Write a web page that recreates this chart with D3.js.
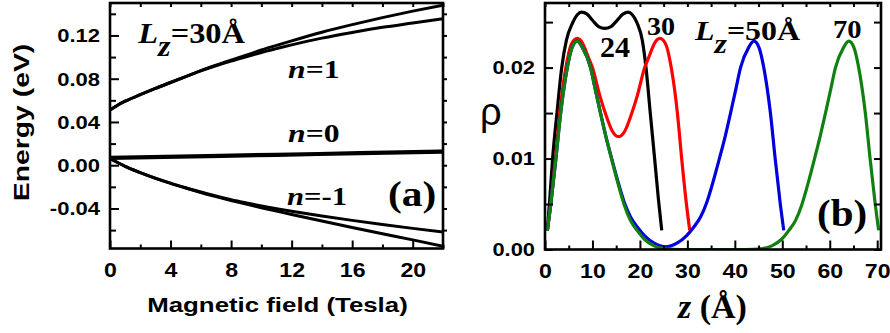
<!DOCTYPE html>
<html>
<head>
<meta charset="utf-8">
<script src="https://cdn.jsdelivr.net/npm/d3@7"></script>
<style>
  body { margin: 0; background: #fff; }
  svg { display: block; }
</style>
</head>
<body>
<svg id="chart" width="890" height="333"></svg>
<script>
// ---------- (a) Landau-type levels vs magnetic field, Lz = 30 Å ----------
const fieldB   = [0, 0.5, 1, 2, 3, 4, 5, 6, 7, 8, 9, 10, 11, 12, 14, 16, 18, 20, 22];
const n1Upper  = [0.051, 0.0555, 0.0592, 0.0652, 0.0710, 0.0765, 0.0820, 0.0875, 0.0925, 0.0972, 0.1018, 0.1065, 0.1108, 0.1150, 0.1230, 0.1300, 0.1365, 0.1425, 0.1480];
const n1Lower  = [0.051, 0.0555, 0.0592, 0.0652, 0.0710, 0.0765, 0.0820, 0.0873, 0.0920, 0.0963, 0.1003, 0.1042, 0.1078, 0.1113, 0.1175, 0.1228, 0.1275, 0.1315, 0.1355];
const nm1Upper = [0.0062, 0.0025, -0.0010, -0.0068, -0.0120, -0.0166, -0.0208, -0.0248, -0.0284, -0.0318, -0.0348, -0.0376, -0.0402, -0.0426, -0.0470, -0.0510, -0.0548, -0.0584, -0.0618];
const nm1Lower = [0.0062, 0.0025, -0.0010, -0.0068, -0.0121, -0.0168, -0.0211, -0.0252, -0.0290, -0.0326, -0.0360, -0.0393, -0.0424, -0.0455, -0.0516, -0.0575, -0.0633, -0.0690, -0.0750];
const n0Field  = [0, 5.5, 11, 16.5, 22];
const n0Upper  = [0.0074, 0.0088, 0.0102, 0.0117, 0.0131];
const n0Lower  = [0.0063, 0.0077, 0.0091, 0.0106, 0.0120];

const fieldTicks  = [0, 4, 8, 12, 16, 20];
const fieldMinor  = [2, 6, 10, 14, 18, 22];
const energyTicks = [-0.04, 0, 0.04, 0.08, 0.12];
const energyMinor = [-0.06, -0.02, 0.02, 0.06, 0.10, 0.14];

// ---------- (b) density profiles rho(z) for several well widths ----------
const zLz24   = [0.5, 1.0, 1.6, 2.5, 3.5, 4.5, 5.8, 6.8, 7.7, 8.8, 10.0, 11.3, 12.6, 13.9, 15.2, 16.5, 17.5, 18.4, 19.4, 20.5, 21.3, 22.2, 23.1, 23.9, 24.6];
const rhoLz24 = [0.0021, 0.0055, 0.0100, 0.0149, 0.0199, 0.0230, 0.0249, 0.0258, 0.0261, 0.0259, 0.0252, 0.0245, 0.0243, 0.0245, 0.0252, 0.0259, 0.0261, 0.0258, 0.0249, 0.0230, 0.0199, 0.0149, 0.0100, 0.0055, 0.0021];

const zLz30   = [0.5, 1.2, 2.2, 3.1, 4.4, 5.5, 6.8, 8.0, 9.0, 10.0, 11.5, 12.9, 14.2, 15.5, 16.8, 18.1, 19.5, 21.0, 22.0, 23.0, 24.2, 25.5, 26.6, 27.9, 28.8, 29.8, 30.5];
const rhoLz30 = [0.0021, 0.0050, 0.0100, 0.0150, 0.0200, 0.0225, 0.0232, 0.0226, 0.0213, 0.0200, 0.0170, 0.0147, 0.0130, 0.0124, 0.0130, 0.0147, 0.0170, 0.0200, 0.0213, 0.0226, 0.0232, 0.0225, 0.0200, 0.0150, 0.0100, 0.0050, 0.0021];

const zLz50   = [0.5, 1.2, 2.3, 3.3, 4.7, 5.7, 6.8, 7.9, 9.6, 10.6, 11.7, 12.8, 14.0, 15.3, 16.7, 18.0, 19.4, 21.0, 23.0, 25.4, 27.8, 29.8, 31.4, 32.8, 34.1, 35.5, 36.8, 38.0, 39.1, 40.2, 41.2, 42.9, 44.0, 45.1, 46.1, 47.5, 48.5, 49.6, 50.3];
const rhoLz50 = [0.0021, 0.0049, 0.0100, 0.0150, 0.0200, 0.0222, 0.0229, 0.0222, 0.0200, 0.0176, 0.0150, 0.0125, 0.0101, 0.0076, 0.0052, 0.0036, 0.0025, 0.0015, 0.0007, 0.0003, 0.0007, 0.0015, 0.0025, 0.0036, 0.0052, 0.0076, 0.0101, 0.0125, 0.0150, 0.0176, 0.0200, 0.0222, 0.0229, 0.0222, 0.0200, 0.0150, 0.0100, 0.0049, 0.0021];

const zLz70   = [0.5, 1.2, 2.3, 3.3, 4.7, 5.7, 6.8, 7.9, 9.6, 10.6, 11.7, 12.8, 14.0, 15.3, 16.7, 18.0, 19.4, 21.0, 23.0, 25.0, 27.0, 30.0, 35.4, 40.8, 43.8, 45.8, 47.8, 49.8, 51.4, 52.8, 54.1, 55.5, 56.8, 58.0, 59.1, 60.2, 61.2, 62.9, 64.0, 65.1, 66.1, 67.5, 68.5, 69.6, 70.3];
const rhoLz70 = [0.0021, 0.0049, 0.0100, 0.0150, 0.0200, 0.0222, 0.0229, 0.0222, 0.0200, 0.0176, 0.0150, 0.0125, 0.0100, 0.0074, 0.0049, 0.0032, 0.0021, 0.0011, 0.0004, 0.0001, 0.00002, 0, 0, 0, 0.00002, 0.0001, 0.0004, 0.0011, 0.0021, 0.0032, 0.0049, 0.0074, 0.0100, 0.0125, 0.0150, 0.0176, 0.0200, 0.0222, 0.0229, 0.0222, 0.0200, 0.0150, 0.0100, 0.0049, 0.0021];

const zTicks   = [0, 10, 20, 30, 40, 50, 60, 70];
const zMinor   = [5, 15, 25, 35, 45, 55, 65];
const rhoTicks = [0, 0.01, 0.02];
const rhoMinor = [0.005, 0.015, 0.025];

// ---------- drawing ----------
const SANS  = "'Liberation Sans', Arial, sans-serif";
const SERIF = "'Liberation Serif', 'Times New Roman', serif";
const svg = d3.select("#chart");

const xB = d3.scaleLinear([0, 22], [110, 443]);
const yE = d3.scaleLinear([-0.077, 0.15], [248.5, 3]);
const xZ = d3.scaleLinear([0, 70.8], [545, 881]);
const yR = d3.scaleLinear([0, 0.0271], [249.5, 3]);

function clipFor(id, x, y) {
  svg.append("clipPath").attr("id", id).append("rect")
    .attr("x", x.range()[0]).attr("y", y.range()[1])
    .attr("width", x.range()[1] - x.range()[0])
    .attr("height", y.range()[0] - y.range()[1]);
}
clipFor("clipA", xB, yE);
clipFor("clipB", xZ, yR);

function tickRow(axis, values, size, transform) {
  const a = svg.append("g").attr("transform", transform)
    .call(axis.tickValues(values).tickSize(size).tickFormat(""));
  a.select(".domain").remove();
  a.selectAll("line").attr("stroke", "#000").attr("stroke-width", 2);
  a.selectAll("text").remove();
  return a;
}

function labelledRow(axis, values, size, transform, fmt, style) {
  const a = svg.append("g").attr("transform", transform)
    .call(axis.tickValues(values).tickSize(size).tickFormat(fmt));
  a.select(".domain").remove();
  a.selectAll("line").attr("stroke", "#000").attr("stroke-width", 2);
  a.selectAll("text")
    .attr("font-family", SANS).attr("font-weight", "bold")
    .attr("font-size", style.size).attr("fill", "#000")
    .attr("transform", `scale(${style.sx},1)`);
  if (style.bottom) {
    a.selectAll("text").attr("y", style.bottom).attr("dy", 0);
  } else {
    a.selectAll("text").attr("x", -style.gap / style.sx).attr("dy", "0.35em");
  }
  return a;
}

function frame(x, y) {
  svg.append("rect")
    .attr("x", x.range()[0]).attr("y", y.range()[1])
    .attr("width", x.range()[1] - x.range()[0])
    .attr("height", y.range()[0] - y.range()[1])
    .attr("fill", "none").attr("stroke", "#000").attr("stroke-width", 2.6);
}

function label(x, y, parts, o) {
  const t = svg.append("text")
    .attr("transform", `translate(${x},${y})${o.rotate ? " rotate(" + o.rotate + ")" : ""} scale(${o.sx || 1},1)`)
    .attr("font-family", o.family).attr("font-weight", o.weight || "bold")
    .attr("font-size", o.size).attr("text-anchor", o.anchor || "start")
    .attr("fill", "#000");
  parts.forEach(p => {
    t.append("tspan").text(p.t)
      .attr("font-style", p.i ? "italic" : null)
      .attr("dy", p.dy || 0);
  });
}

const fmt2 = v => v.toFixed(2);

// ----- panel (a) -----
const lineA = d3.line().x(d => xB(d[0])).y(d => yE(d[1])).curve(d3.curveMonotoneX);
const gA = svg.append("g").attr("clip-path", "url(#clipA)");
[
  [fieldB, n1Upper], [fieldB, n1Lower],
  [n0Field, n0Upper], [n0Field, n0Lower],
  [fieldB, nm1Upper], [fieldB, nm1Lower]
].forEach(([xs, ys]) => {
  gA.append("path").attr("d", lineA(d3.zip(xs, ys)))
    .attr("fill", "none").attr("stroke", "#000").attr("stroke-width", 3)
    .attr("stroke-linejoin", "round");
});

labelledRow(d3.axisBottom(xB), fieldTicks, -8, `translate(0,${yE.range()[0]})`, d => d, { size: 21, sx: 1.1, bottom: 28.4 });
tickRow(d3.axisBottom(xB), fieldMinor, -4, `translate(0,${yE.range()[0]})`);
tickRow(d3.axisTop(xB), fieldTicks.concat(fieldMinor), -4, `translate(0,${yE.range()[1]})`);
labelledRow(d3.axisLeft(yE), energyTicks, -9, `translate(${xB.range()[0]},0)`, fmt2, { size: 18.5, sx: 1.19, gap: 10 });
tickRow(d3.axisLeft(yE), energyMinor, -6, `translate(${xB.range()[0]},0)`);
tickRow(d3.axisRight(yE), energyTicks.concat(energyMinor), 4, `translate(${xB.range()[1]},0)`);
frame(xB, yE);

label(29, 122.5, [{ t: "Energy (eV)" }], { family: SANS, size: 21.5, sx: 1.32, anchor: "middle", rotate: -90 });
label(277.5, 311.7, [{ t: "Magnetic field (Tesla)" }], { family: SANS, size: 21, sx: 1.23, anchor: "middle" });

label(138.3, 42.7, [{ t: "L", i: true }, { t: "z", i: true, dy: 13 }, { t: "=30Å", dy: -13 }], { family: SERIF, size: 30, sx: 1.08 });
label(288, 78, [{ t: "n", i: true }, { t: "=1" }], { family: SERIF, size: 26, sx: 1.22 });
label(288, 141.7, [{ t: "n", i: true }, { t: "=0" }], { family: SERIF, size: 26, sx: 1.22 });
label(287, 205, [{ t: "n", i: true }, { t: "=-1" }], { family: SERIF, size: 26, sx: 1.18 });
label(388, 206, [{ t: "(a)" }], { family: SERIF, size: 36, sx: 1.15 });

// ----- panel (b) -----
const lineB = d3.line().x(d => xZ(d[0])).y(d => yR(d[1])).curve(d3.curveMonotoneX);
const gB = svg.append("g").attr("clip-path", "url(#clipB)");
[
  [zLz24, rhoLz24, "#000000"],
  [zLz30, rhoLz30, "#ff0000"],
  [zLz50, rhoLz50, "#0000dd"],
  [zLz70, rhoLz70, "#108010"]
].forEach(([xs, ys, c]) => {
  gB.append("path").attr("d", lineB(d3.zip(xs, ys)))
    .attr("fill", "none").attr("stroke", c).attr("stroke-width", 3.2)
    .attr("stroke-linejoin", "round");
});

labelledRow(d3.axisBottom(xZ), zTicks, -9, `translate(0,${yR.range()[0]})`, d => d, { size: 21, sx: 1.1, bottom: 28.8 });
tickRow(d3.axisBottom(xZ), zMinor, -4, `translate(0,${yR.range()[0]})`);
tickRow(d3.axisTop(xZ), zTicks.concat(zMinor), -4, `translate(0,${yR.range()[1]})`);
labelledRow(d3.axisLeft(yR), rhoTicks, -8, `translate(${xZ.range()[0]},0)`, fmt2, { size: 17.5, sx: 1.25, gap: 10 });
tickRow(d3.axisLeft(yR), rhoMinor, -8, `translate(${xZ.range()[0]},0)`);
tickRow(d3.axisRight(yR), rhoTicks.concat(rhoMinor), -7, `translate(${xZ.range()[1]},0)`);
frame(xZ, yR);

label(480, 125, [{ t: "ρ" }], { family: SANS, size: 38, weight: "normal" });
label(678, 318, [{ t: "z", i: true }, { t: " (Å)" }], { family: SERIF, size: 34 });

label(600, 57, [{ t: "24" }], { family: SERIF, size: 30 });
label(647, 35, [{ t: "30" }], { family: SERIF, size: 26, sx: 1.08 });
label(695, 40, [{ t: "L", i: true }, { t: "z", i: true, dy: 13 }, { t: "=50Å", dy: -13 }], { family: SERIF, size: 28, sx: 1.14 });
label(833, 38.3, [{ t: "70" }], { family: SERIF, size: 26, sx: 1.1 });
label(817, 226, [{ t: "(b)" }], { family: SERIF, size: 38, sx: 1.08 });
</script>
</body>
</html>
